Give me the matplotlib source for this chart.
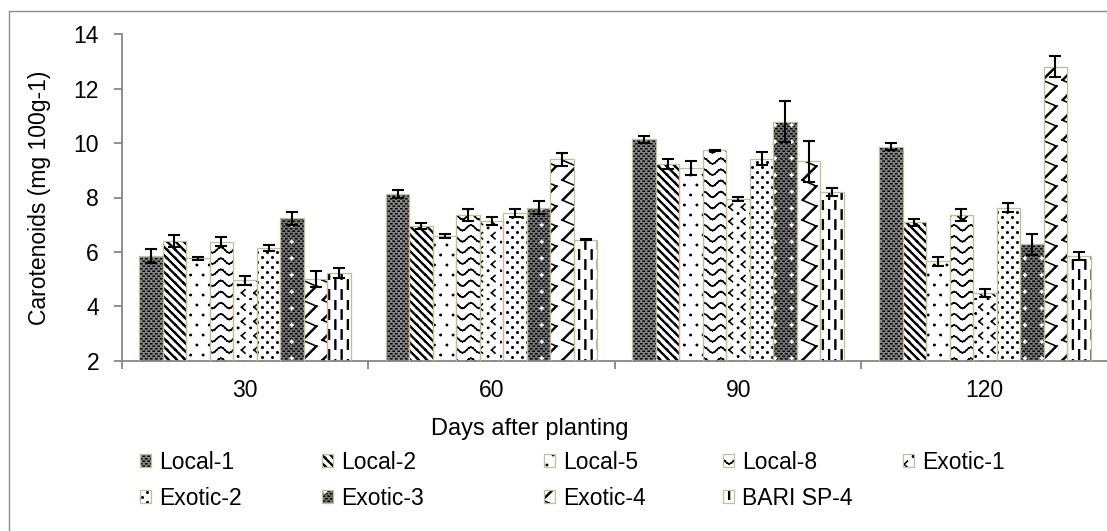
import numpy as np
import matplotlib
matplotlib.use("Agg")
import matplotlib.pyplot as plt
from matplotlib import hatch as mhatch
from matplotlib.path import Path
from matplotlib.patches import Rectangle
from matplotlib.legend_handler import HandlerTuple

plt.rcParams['font.family'] = ['Liberation Sans', 'DejaVu Sans']
plt.rcParams['hatch.linewidth'] = 1.15

# ---------------- data ----------------
groups = ['30', '60', '90', '120']
series = ['Local-1', 'Local-2', 'Local-5', 'Local-8', 'Exotic-1',
          'Exotic-2', 'Exotic-3', 'Exotic-4', 'BARI SP-4']

local1 = [5.85, 8.13, 10.14, 9.87]
local2 = [6.40, 6.95, 9.22, 7.09]
local5 = [5.76, 6.57, 9.07, 5.65]
local8 = [6.38, 7.35, 9.74, 7.35]
exotic1 = [4.95, 7.15, 7.94, 4.50]
exotic2 = [6.15, 7.44, 9.43, 7.63]
exotic3 = [7.23, 7.63, 10.79, 6.28]
exotic4 = [5.00, 9.40, 9.33, 12.81]
bari = [5.22, 6.44, 8.19, 5.86]

local1_err = [0.26, 0.15, 0.13, 0.13]
local2_err = [0.22, 0.11, 0.19, 0.12]
local5_err = [0.04, 0.07, 0.26, 0.18]
local8_err = [0.15, 0.21, 0.02, 0.21]
exotic1_err = [0.15, 0.15, 0.08, 0.15]
exotic2_err = [0.10, 0.15, 0.23, 0.15]
exotic3_err = [0.25, 0.23, 0.75, 0.39]
exotic4_err = [0.28, 0.23, 0.75, 0.38]
bari_err = [0.18, 0.02, 0.15, 0.15]

values = [local1, local2, local5, local8, exotic1, exotic2, exotic3, exotic4, bari]
errors = [local1_err, local2_err, local5_err, local8_err, exotic1_err,
          exotic2_err, exotic3_err, exotic4_err, bari_err]

# ---------------- custom hatch patterns (Excel-like fills) ----------------
mhatch._validate_hatch_pattern = lambda hatch: None


def register_hatch(char, segs, nx, ny):
    segs = [((float(a), float(b)), (float(c), float(d))) for (a, b), (c, d) in segs]

    class _Custom(mhatch.HatchPatternBase):
        def __init__(self, hatch, density):
            self.on = char in hatch
            self.num_vertices = len(segs) * 2 * nx * ny if self.on else 0

        def set_vertices_and_codes(self, vertices, codes):
            k = 0
            for i in range(nx):
                for j in range(ny):
                    for (x0, y0), (x1, y1) in segs:
                        vertices[k] = ((i + x0) / nx, (j + y0) / ny)
                        vertices[k + 1] = ((i + x1) / nx, (j + y1) / ny)
                        codes[k] = Path.MOVETO
                        codes[k + 1] = Path.LINETO
                        k += 2

    mhatch._hatch_types.append(_Custom)


def dot(x, y, sx=0.1, sy=None):
    segs = [((x - sx, y), (x + sx, y))]
    if sy:
        segs.append(((x, y - sy), (x, y + sy)))
    return segs


# fine dark checker
register_hatch('k', dot(0.25, 0.25, 0.12) + dot(0.75, 0.75, 0.12), 20, 20)
# white sparkles
register_hatch('s', [((0.42, 0.5), (0.58, 0.5)), ((0.5, 0.42), (0.5, 0.58))], 6, 6)
# sparse dots
register_hatch('p', dot(0.25, 0.25, 0.05, 0.03) + dot(0.75, 0.75, 0.05, 0.03), 8, 5)
# dense dots
register_hatch('q', dot(0.25, 0.25, 0.07, 0.07) + dot(0.75, 0.75, 0.07, 0.07), 10, 10)
# thick back-diagonal lines
o = 0.12
register_hatch('b', [((0, 1), (1, 0)), ((o, 1), (1, o)), ((0, o), (o, 0))], 12, 12)
# waves
wx = np.linspace(0, 1, 9)
wy = 0.5 + 0.25 * np.sin(2 * np.pi * wx)
register_hatch('w', [((wx[i], wy[i]), (wx[i + 1], wy[i + 1])) for i in range(8)], 6, 9)
# divots '<'
register_hatch('c', [((0.6, 0.72), (0.32, 0.5)), ((0.32, 0.5), (0.6, 0.28))]
               + dot(0.05, 0.05, 0.05, 0.04), 8, 7)
# zigzag
register_hatch('z', [((0.1, 0.0), (0.8, 0.7)), ((0.8, 0.7), (0.1, 1.0)),
                     ((0.16, 0.0), (0.86, 0.7))], 5, 5)
# dashed vertical
register_hatch('d', [((0.3, 0.05), (0.3, 0.5)), ((0.8, 0.55), (0.8, 1.0)),
                     ((0.36, 0.05), (0.36, 0.5)), ((0.86, 0.55), (0.86, 1.0))], 8, 5)

# layers: (facecolor, hatchcolor, hatch)
layers = [
    [('#8a8a8a', 'black', 'k')],
    [('white', 'black', 'b')],
    [('white', 'black', 'p')],
    [('white', 'black', 'w')],
    [('white', 'black', 'c')],
    [('white', 'black', 'q')],
    [('#7a7a7a', 'black', 'k'), ('none', 'white', 's')],
    [('white', 'black', 'z')],
    [('white', 'black', 'd')],
]
edge = '#c4bd97'

# ---------------- figure ----------------
W, H = 1107, 531
fig = plt.figure(figsize=(W / 100, H / 100), dpi=100)
ax = fig.add_axes([121.7 / W, 1 - 360.7 / H, 986.4 / W, 326.4 / H])

x = np.arange(len(groups))
bw = 0.0953
n = len(series)
handles = []
for i in range(n):
    pos = x + (i - (n - 1) / 2) * bw
    proxy = []
    for fc, hc, hp in layers[i]:
        if fc == 'none':
            ax.bar(pos, values[i], bw, fill=False, edgecolor=hc,
                   linewidth=0, hatch=hp, zorder=2)
            proxy.append(Rectangle((0, 0), 1, 1, fill=False, edgecolor=hc,
                                   linewidth=0, hatch=hp))
        else:
            ax.bar(pos, values[i], bw, facecolor=fc, edgecolor=hc,
                   linewidth=0, hatch=hp, zorder=2)
            proxy.append(Rectangle((0, 0), 1, 1, facecolor=fc, edgecolor=hc,
                                   linewidth=0, hatch=hp))
    ax.bar(pos, values[i], bw, fill=False, edgecolor=edge, linewidth=0.9,
           yerr=errors[i], zorder=3,
           error_kw=dict(ecolor='black', elinewidth=1.5, capsize=4, capthick=1.5, zorder=4))
    proxy.append(Rectangle((0, 0), 1, 1, fill=False, edgecolor=edge, linewidth=0.9))
    handles.append(tuple(proxy))

ax.set_ylim(2, 14)
ax.set_yticks(np.arange(2, 15, 2))
ax.set_xlim(-0.5, 3.5)
ax.set_xticks(np.arange(-0.5, 3.6, 1.0))
ax.set_xticklabels([])
ax.set_xticks(x, minor=True)
ax.set_xticklabels(groups, minor=True)

spc = '#868686'
for s in ['top', 'right']:
    ax.spines[s].set_visible(False)
for s in ['left', 'bottom']:
    ax.spines[s].set_color(spc)
    ax.spines[s].set_linewidth(1.3)

ax.tick_params(axis='y', which='major', length=5.8, width=1.3, color=spc,
               labelsize=16.5, pad=10.5, direction='out')
ax.tick_params(axis='x', which='major', length=5.8, width=1.3, color=spc, direction='out')
ax.tick_params(axis='x', which='minor', length=0, labelsize=16.5, pad=13)

ax.set_ylabel('Carotenoids (mg 100g-1)', fontsize=16.5)
ax.yaxis.set_label_coords((51 - 121.7) / 986.4, 0.5)
ax.set_xlabel('Days after planting', fontsize=17)
ax.xaxis.set_label_coords((530 - 121.7) / 986.4, (360.7 - 418) / 326.4)

# legend in columns
col_x = [140, 322, 544, 723, 903]
cols = [[0, 5], [1, 6], [2, 7], [3, 8], [4]]
for cx, idx in zip(col_x, cols):
    fig.legend([handles[k] for k in idx], [series[k] for k in idx],
               handler_map={tuple: HandlerTuple(ndivide=1)},
               loc='upper left', bbox_to_anchor=(cx / W, 1 - 451 / H),
               frameon=False, fontsize=16.5, handlelength=0.5, handleheight=0.5,
               handletextpad=0.35, labelspacing=0.55, borderpad=0, borderaxespad=0)

# outer chart frame
fig.patches.append(Rectangle((8.5 / W, -0.1), 1.2, 1.1 - 10.5 / H, fill=False,
                             edgecolor='#8c8c8c', linewidth=1.0,
                             transform=fig.transFigure, figure=fig))

fig.savefig('out.png', dpi=100)
